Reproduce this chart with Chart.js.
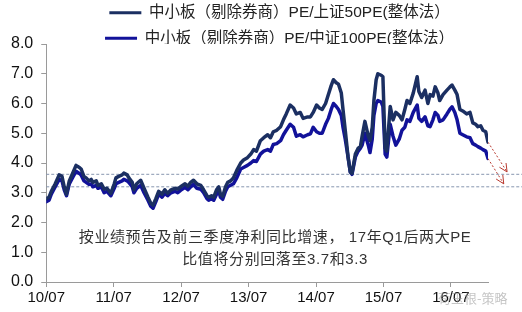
<!DOCTYPE html>
<html>
<head>
<meta charset="utf-8">
<script src="https://cdn.jsdelivr.net/npm/chart.js@4/dist/chart.umd.min.js"></script>
<style>
body { margin: 0; background: #fff; }
#contenedor { width: 522px; height: 312px; position: relative; }
</style>
</head>
<body>
<div id="contenedor"><canvas id="grafico"></canvas></div>
<script>
// months since 2010/07
const meses = [0,0.5,0.9,1.6,2.3,2.8,3.2,3.6,4.1,4.8,
  5.3,5.9,6.2,6.7,7.1,7.6,8.0,8.3,8.9,9.2,
  9.8,10.3,10.8,11.5,12.1,12.4,12.9,13.5,13.8,14.4,
  14.7,15.3,15.6,16.1,16.8,17.4,18.1,18.6,19.0,19.5,
  20.0,20.6,21.1,21.6,22.2,22.9,23.4,23.9,24.7,25.2,
  25.7,26.2,26.8,27.5,28.0,28.6,28.9,29.4,29.8,30.3,
  30.7,31.0,31.4,31.9,32.3,32.8,33.3,33.9,34.6,35.1,
  35.8,36.4,36.9,37.4,38.1,38.7,39.4,39.9,40.4,41.0,
  41.7,42.2,42.7,43.4,44.0,44.5,45.2,45.7,46.5,47.0,
  47.5,48.1,48.6,49.1,49.7,50.2,50.7,51.1,51.6,52.0,
  52.5,52.8,53.2,53.7,54.1,54.4,55.0,55.5,55.9,56.2,
  56.7,57.3,57.6,58.0,58.3,58.7,59.0,59.6,59.9,60.3,
  60.6,61.2,61.7,62.2,62.8,63.3,63.8,64.2,64.7,65.3,
  66.0,66.3,66.8,67.4,67.9,68.3,68.8,69.2,69.7,70.0,
  70.6,71.3,71.8,72.2,72.7,73.1,73.6,74.1,74.8,75.4,
  75.9,76.4,76.8,77.3,77.7,78.2,78.6];

const pe50 = [2.8,2.85,3.05,3.3,3.6,3.55,3.2,2.95,3.4,3.7,
  3.92,3.85,3.8,3.55,3.5,3.4,3.45,3.35,3.4,3.25,
  3.3,3.12,3.15,2.98,3.3,3.5,3.55,3.6,3.66,3.6,
  3.5,3.35,3.1,3.3,3.42,3.15,2.85,2.65,2.58,2.8,
  3.05,2.95,3.1,2.98,3.1,3.15,3.12,3.2,3.3,3.22,
  3.35,3.42,3.3,3.25,3.1,2.9,2.85,2.9,2.85,3.1,
  3.2,2.95,2.88,3.2,3.35,3.4,3.5,3.75,4.0,4.1,
  4.18,4.3,4.45,4.4,4.75,4.85,4.95,4.85,5.05,5.1,
  5.22,5.45,5.65,5.95,5.85,5.65,5.7,5.5,5.55,5.55,
  5.7,5.95,5.85,5.8,6.0,6.3,6.6,6.8,6.7,6.65,
  6.35,5.8,5.1,4.2,3.7,3.65,4.3,4.5,4.55,4.9,
  5.4,4.9,4.75,5.2,6.1,6.8,7.0,6.95,6.9,4.5,
  4.4,5.9,5.45,5.7,5.6,5.45,5.8,6.1,6.0,6.35,
  6.9,6.4,6.2,6.45,6.0,6.3,6.25,6.56,6.35,6.1,
  6.3,6.45,6.55,6.62,6.45,6.3,5.8,5.75,5.65,5.7,
  5.35,5.3,5.22,5.25,5.1,5.05,4.7];

const pe100 = [2.7,2.75,2.95,3.2,3.45,3.4,3.1,2.9,3.3,3.55,
  3.72,3.65,3.6,3.4,3.35,3.28,3.3,3.2,3.25,3.15,
  3.2,3.0,3.05,2.9,3.15,3.3,3.35,3.4,3.45,3.4,
  3.35,3.2,3.0,3.15,3.25,3.0,2.75,2.55,2.48,2.7,
  2.95,2.85,2.98,2.9,3.0,3.05,3.0,3.08,3.18,3.1,
  3.2,3.28,3.15,3.12,3.0,2.8,2.75,2.8,2.75,2.95,
  3.05,2.85,2.78,3.05,3.2,3.25,3.3,3.5,3.8,3.85,
  3.92,4.0,4.08,4.05,4.3,4.4,4.45,4.4,4.62,4.65,
  4.75,4.95,5.1,5.3,5.2,4.9,4.95,4.88,4.95,4.98,
  5.2,5.05,5.0,5.0,5.3,5.5,5.8,6.0,5.9,5.8,
  5.6,5.2,4.8,4.2,3.7,3.62,4.2,4.4,4.5,4.6,
  5.0,4.6,4.35,4.8,5.6,6.0,6.1,6.05,5.9,4.3,
  4.2,5.3,4.9,4.6,4.8,5.1,5.2,5.45,5.4,5.7,
  5.95,5.5,5.4,5.55,5.25,5.22,5.45,5.7,5.6,5.4,
  5.45,5.65,5.8,5.89,5.7,5.45,5.0,4.95,4.88,4.85,
  4.65,4.6,4.55,4.5,4.45,4.4,4.15];

const tickMeses = [0, 12, 24, 36, 48, 60, 72];
const tickLabels = ['10/07', '11/07', '12/07', '13/07', '14/07', '15/07', '16/07'];
const nombres = ['中小板（剔除券商）PE/上证50PE(整体法）', '中小板（剔除券商）PE/中证100PE(整体法）'];
const colores = ['#1b2f62', '#12129a'];

// dashed reference levels and forecast arrows
const lineasRef = [3.62, 3.2];
const flechaMesFin = [82.0, 81.4];
const flechaValorFin = [3.7, 3.3];
const notas = ['按业绩预告及前三季度净利同比增速， 17年Q1后两大PE', '比值将分别回落至3.7和3.3'];
const notasValorY = [1.5, 0.74];
const marcaAgua = '荀玉根-策略';

Chart.defaults.font.family = "'Liberation Sans', 'Noto Sans CJK SC', sans-serif";
Chart.defaults.color = '#111';

const serie = (vals) => meses.map((m, i) => ({ x: m, y: vals[i] }));
const ultimo = (arr) => arr[arr.length - 1];

const datasets = [
  { label: nombres[0], data: serie(pe50), borderColor: colores[0], backgroundColor: colores[0] },
  { label: nombres[1], data: serie(pe100), borderColor: colores[1], backgroundColor: colores[1] }
].map(d => ({ ...d, borderWidth: 3.5, pointRadius: 0, borderJoinStyle: 'round', borderCapStyle: 'round' }));

lineasRef.forEach(v => {
  datasets.push({
    label: 'ref', data: [{ x: 0, y: v }, { x: 86, y: v }],
    borderColor: '#8796b0', borderWidth: 1, borderDash: [3, 2], pointRadius: 0, clip: false
  });
});

[pe50, pe100].forEach((vals, i) => {
  datasets.push({
    label: 'flecha', flecha: true,
    data: [{ x: ultimo(meses), y: ultimo(vals) }, { x: flechaMesFin[i], y: flechaValorFin[i] }],
    borderColor: '#b8392f', borderWidth: 1, borderDash: [2, 2], pointRadius: 0, clip: false
  });
});

// legend sits higher and a bit to the right, rows overlap the top of the plot
const ajusteLeyenda = {
  id: 'ajusteLeyenda',
  beforeLayout(chart) {
    const leyenda = chart.legend;
    if (leyenda && !leyenda._ajustada) {
      const fitOriginal = leyenda.fit.bind(leyenda);
      leyenda.fit = function () { fitOriginal(); this.height -= 12; };
      leyenda._ajustada = true;
    }
  },
  afterLayout(chart) {
    const leyenda = chart.legend;
    if (leyenda) { leyenda.left += 34; leyenda.right += 34; }
  }
};

// arrow heads, annotation text and watermark
const extras = {
  id: 'extras',
  afterDatasetsDraw(chart) {
    const ctx = chart.ctx;
    ctx.save();
    chart.data.datasets.forEach((d, i) => {
      if (!d.flecha) return;
      const pts = chart.getDatasetMeta(i).data;
      const a = pts[pts.length - 2], b = pts[pts.length - 1];
      const ang = Math.atan2(b.y - a.y, b.x - a.x);
      ctx.strokeStyle = d.borderColor;
      ctx.lineWidth = 1;
      ctx.setLineDash([]);
      ctx.beginPath();
      [-0.45, 0.45].forEach(da => {
        ctx.moveTo(b.x, b.y);
        ctx.lineTo(b.x - 9 * Math.cos(ang + da), b.y - 9 * Math.sin(ang + da));
      });
      ctx.stroke();
    });

    const area = chart.chartArea;
    const y = chart.scales.y;
    ctx.fillStyle = '#333';
    ctx.font = "15px 'Liberation Sans', 'Noto Sans CJK SC', sans-serif";
    ctx.letterSpacing = '0.6px';
    ctx.textAlign = 'center';
    ctx.textBaseline = 'middle';
    const cx = (area.left + area.right) / 2 + 8;
    notas.forEach((t, i) => ctx.fillText(t, cx, y.getPixelForValue(notasValorY[i])));

    ctx.letterSpacing = '0px';
    ctx.fillStyle = 'rgba(150,150,150,0.55)';
    ctx.font = "13px 'Noto Sans CJK SC', sans-serif";
    ctx.textAlign = 'left';
    ctx.fillText(marcaAgua, area.right - 50, area.bottom + 16);
    ctx.restore();
  }
};

new Chart(document.getElementById('grafico'), {
  type: 'line',
  data: { datasets: datasets },
  options: {
    responsive: true,
    maintainAspectRatio: false,
    animation: false,
    layout: { padding: { top: -5, left: 3, right: 34, bottom: 3 } },
    scales: {
      x: {
        type: 'linear',
        min: 0,
        max: ultimo(meses),
        afterBuildTicks: (scale) => { scale.ticks = tickMeses.map(v => ({ value: v })); },
        ticks: {
          autoSkip: false, maxRotation: 0, padding: 2,
          font: { size: 15 },
          callback: (v, i) => tickLabels[i]
        },
        grid: { drawOnChartArea: false, tickLength: 5, color: '#9a9a9a' },
        border: { color: '#9a9a9a' }
      },
      y: {
        min: 0,
        max: 8,
        ticks: { stepSize: 1, padding: 8, font: { size: 16 }, callback: (v) => v.toFixed(1) },
        grid: { drawOnChartArea: false, tickLength: 5, color: '#9a9a9a' },
        border: { color: '#9a9a9a' }
      }
    },
    plugins: {
      legend: {
        position: 'top',
        labels: {
          color: '#222',
          font: { size: 15.5 },
          boxWidth: 32,
          boxHeight: 3,
          padding: 10,
          filter: (item) => item.datasetIndex < 2,
          generateLabels: (chart) => Chart.defaults.plugins.legend.labels.generateLabels(chart)
            .map(l => ({ ...l, lineWidth: 0 }))
        }
      },
      tooltip: { enabled: false }
    }
  },
  plugins: [ajusteLeyenda, extras]
});
</script>
</body>
</html>
